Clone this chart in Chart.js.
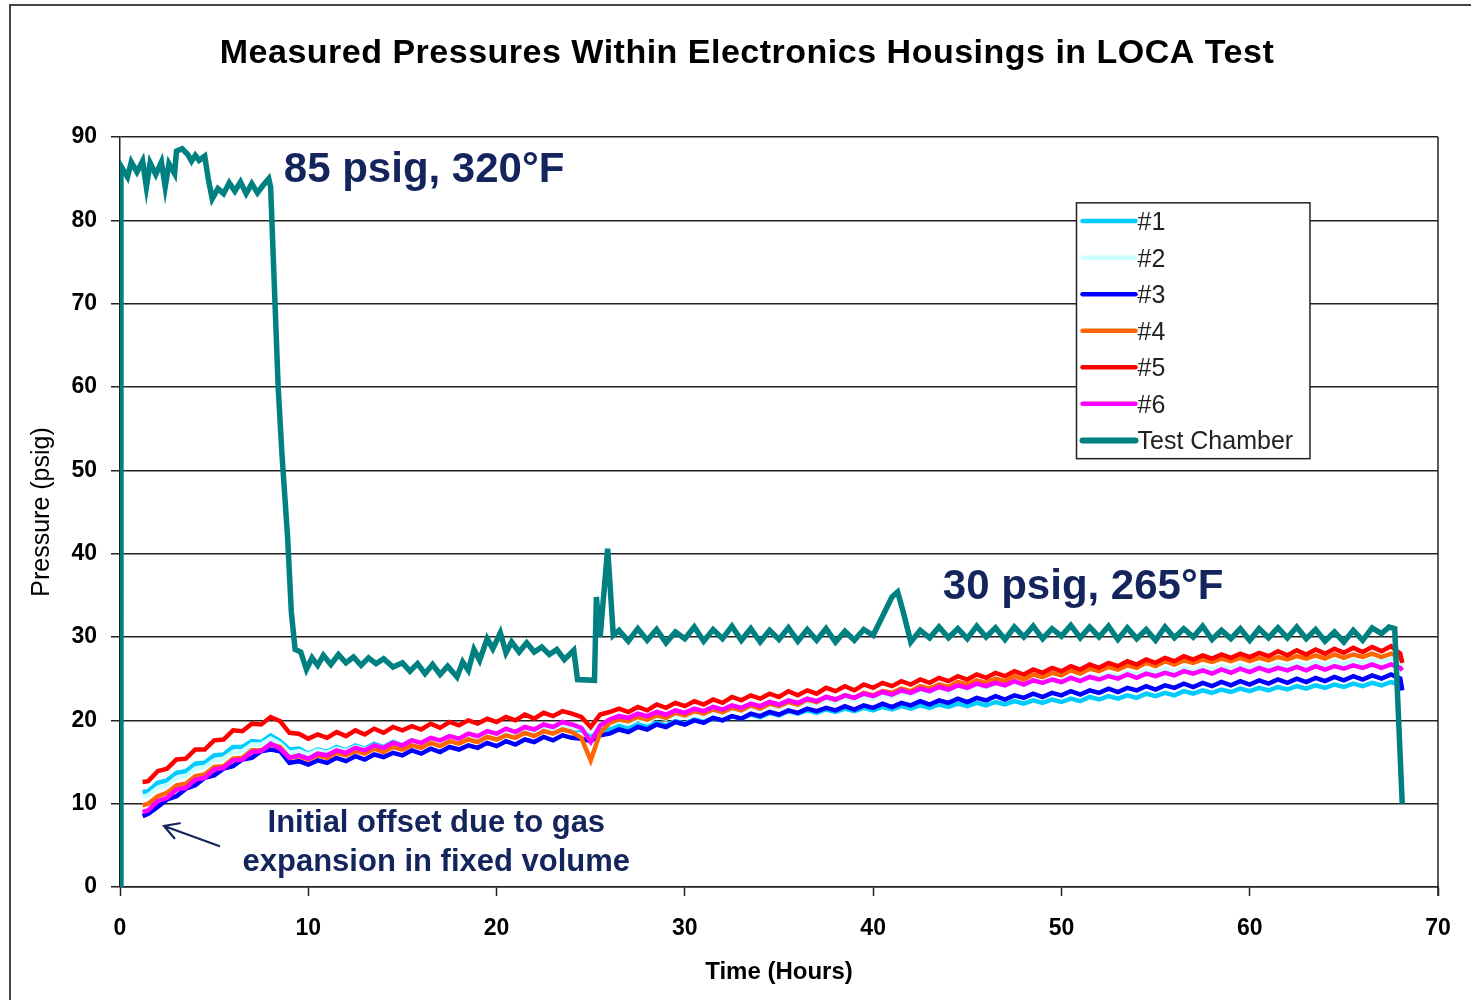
<!DOCTYPE html>
<html>
<head>
<meta charset="utf-8">
<script src="https://cdn.jsdelivr.net/npm/chart.js@4.4.1/dist/chart.umd.min.js"></script>
<style>
html, body { margin: 0; padding: 0; background: #fff; }
canvas { display: block; }
</style>
</head>
<body>
<canvas id="myChart" width="1471" height="1000"></canvas>
<script>
var ctx = document.getElementById('myChart');

// housing readings share one time base (hours)
var hours = [1.2, 1.5, 2, 2.5, 3, 3.5, 4, 4.5,
  5, 5.5, 6, 6.5, 7, 7.5, 8, 8.5, 9, 9.5,
  10, 10.5, 11, 11.5, 12, 12.5, 13, 13.5, 14, 14.5,
  15, 15.5, 16, 16.5, 17, 17.5, 18, 18.5, 19, 19.5,
  20, 20.5, 21, 21.5, 22, 22.5, 23, 23.5, 24, 24.5,
  25, 25.5, 26, 26.5, 27, 27.5, 28, 28.5, 29, 29.5,
  30, 30.5, 31, 31.5, 32, 32.5, 33, 33.5, 34, 34.5,
  35, 35.5, 36, 36.5, 37, 37.5, 38, 38.5, 39, 39.5,
  40, 40.5, 41, 41.5, 42, 42.5, 43, 43.5, 44, 44.5,
  45, 45.5, 46, 46.5, 47, 47.5, 48, 48.5, 49, 49.5,
  50, 50.5, 51, 51.5, 52, 52.5, 53, 53.5, 54, 54.5,
  55, 55.5, 56, 56.5, 57, 57.5, 58, 58.5, 59, 59.5,
  60, 60.5, 61, 61.5, 62, 62.5, 63, 63.5, 64, 64.5,
  65, 65.5, 66, 66.5, 67, 67.5, 68, 68.1];

var housing1 = [11.4, 11.5, 12.5, 12.8, 13.7, 13.9, 14.8, 14.9,
  15.8, 15.9, 16.8, 16.8, 17.5, 17.4, 18.2, 17.5, 16.5, 16.6,
  16.0, 16.5, 16.2, 16.8, 16.4, 17.0, 16.6, 17.2, 16.8, 17.4,
  17.0, 17.6, 17.2, 17.8, 17.4, 18.0, 17.6, 18.2, 17.8, 18.4,
  18.0, 18.6, 18.2, 18.8, 18.4, 19.0, 18.6, 19.2, 18.9, 18.8,
  18.3, 18.8, 18.9, 19.3, 19.0, 19.5, 19.2, 19.7, 19.4, 19.9,
  19.6, 20.1, 19.8, 20.3, 20.0, 20.5, 20.2, 20.7, 20.4, 20.9,
  20.6, 21.1, 20.8, 21.2, 20.9, 21.3, 21.0, 21.4, 21.1, 21.5,
  21.2, 21.6, 21.3, 21.7, 21.4, 21.8, 21.5, 21.9, 21.6, 22.0,
  21.7, 22.1, 21.8, 22.2, 21.9, 22.3, 22.0, 22.4, 22.1, 22.5,
  22.2, 22.6, 22.3, 22.8, 22.5, 22.9, 22.6, 23.0, 22.7, 23.2,
  22.9, 23.3, 23.0, 23.5, 23.2, 23.6, 23.3, 23.7, 23.4, 23.8,
  23.5, 23.9, 23.6, 24.0, 23.7, 24.1, 23.8, 24.2, 23.9, 24.3,
  24.0, 24.4, 24.1, 24.5, 24.2, 24.6, 24.3, 24.0];

var housing2 = [10.8, 11.0, 11.9, 12.2, 13.1, 13.3, 14.2, 14.4,
  15.2, 15.4, 16.2, 16.3, 17.1, 17.1, 17.8, 17.2, 16.1, 16.3,
  15.9, 16.4, 16.1, 16.6, 16.3, 16.8, 16.5, 17.0, 16.7, 17.2,
  17.0, 17.5, 17.2, 17.7, 17.4, 17.9, 17.6, 18.1, 17.8, 18.4,
  18.1, 18.6, 18.3, 18.9, 18.5, 19.1, 18.8, 19.3, 19.0, 19.1,
  18.6, 19.3, 19.5, 19.9, 19.7, 20.2, 19.9, 20.4, 20.2, 20.7,
  20.4, 20.9, 20.6, 21.1, 20.8, 21.3, 21.1, 21.6, 21.3, 21.8,
  21.5, 22.0, 21.7, 22.2, 21.9, 22.5, 22.2, 22.7, 22.4, 22.9,
  22.6, 23.2, 22.8, 23.4, 23.1, 23.6, 23.3, 23.9, 23.5, 24.1,
  23.7, 24.3, 23.9, 24.4, 24.1, 24.6, 24.3, 24.8, 24.5, 25.0,
  24.7, 25.2, 24.9, 25.4, 25.1, 25.6, 25.3, 25.8, 25.5, 26.0,
  25.7, 26.2, 25.8, 26.3, 26.0, 26.4, 26.1, 26.5, 26.2, 26.6,
  26.3, 26.7, 26.4, 26.8, 26.5, 26.9, 26.6, 27.0, 26.7, 27.1,
  26.8, 27.2, 26.9, 27.3, 27.0, 27.4, 27.0, 26.5];

var housing3 = [8.5, 8.8, 9.6, 10.5, 10.9, 11.8, 12.2, 13.1,
  13.4, 14.2, 14.5, 15.3, 15.5, 16.3, 16.5, 16.3, 14.9, 15.1,
  14.7, 15.2, 14.9, 15.5, 15.1, 15.7, 15.3, 15.9, 15.6, 16.1,
  15.8, 16.4, 16.0, 16.6, 16.2, 16.8, 16.5, 17.0, 16.7, 17.3,
  16.9, 17.5, 17.1, 17.7, 17.4, 18.0, 17.6, 18.2, 17.9, 17.8,
  17.5, 18.2, 18.4, 18.9, 18.6, 19.2, 18.9, 19.5, 19.2, 19.8,
  19.5, 20.0, 19.7, 20.3, 20.0, 20.5, 20.2, 20.8, 20.5, 21.0,
  20.7, 21.2, 20.9, 21.4, 21.1, 21.5, 21.2, 21.7, 21.3, 21.8,
  21.5, 22.0, 21.6, 22.1, 21.8, 22.3, 21.9, 22.4, 22.1, 22.6,
  22.2, 22.7, 22.4, 22.9, 22.5, 23.0, 22.7, 23.2, 22.8, 23.3,
  23.0, 23.5, 23.1, 23.6, 23.3, 23.8, 23.4, 23.9, 23.6, 24.1,
  23.7, 24.2, 23.9, 24.4, 24.0, 24.5, 24.1, 24.6, 24.2, 24.7,
  24.3, 24.8, 24.4, 24.9, 24.5, 25.0, 24.6, 25.1, 24.7, 25.2,
  24.8, 25.3, 24.9, 25.4, 25.0, 25.5, 25.0, 23.6];

var housing4 = [9.8, 10.0, 10.9, 11.3, 12.2, 12.4, 13.3, 13.5,
  14.4, 14.5, 15.4, 15.5, 16.4, 16.4, 17.1, 16.8, 15.5, 15.7,
  15.3, 15.8, 15.5, 16.1, 15.8, 16.3, 16.0, 16.6, 16.2, 16.8,
  16.5, 17.0, 16.7, 17.3, 16.9, 17.5, 17.2, 17.7, 17.4, 18.0,
  17.7, 18.2, 17.9, 18.5, 18.1, 18.7, 18.4, 18.9, 18.6, 17.9,
  15.2, 18.5, 19.7, 20.1, 19.9, 20.4, 20.1, 20.6, 20.3, 20.9,
  20.6, 21.1, 20.8, 21.3, 21.0, 21.5, 21.2, 21.8, 21.4, 22.0,
  21.7, 22.2, 21.9, 22.5, 22.2, 22.8, 22.5, 23.0, 22.7, 23.3,
  23.0, 23.5, 23.3, 23.8, 23.5, 24.1, 23.8, 24.3, 24.0, 24.6,
  24.3, 24.8, 24.5, 25.0, 24.7, 25.3, 24.9, 25.5, 25.2, 25.7,
  25.4, 26.0, 25.6, 26.2, 25.9, 26.4, 26.1, 26.6, 26.3, 26.9,
  26.5, 27.1, 26.7, 27.2, 26.9, 27.3, 27.0, 27.4, 27.1, 27.5,
  27.1, 27.5, 27.2, 27.6, 27.3, 27.7, 27.4, 27.8, 27.4, 27.9,
  27.5, 27.9, 27.6, 28.0, 27.6, 28.0, 27.6, 27.0];

var housing5 = [12.6, 12.7, 13.9, 14.2, 15.3, 15.4, 16.5, 16.5,
  17.6, 17.7, 18.8, 18.7, 19.6, 19.5, 20.4, 19.9, 18.5, 18.4,
  17.8, 18.3, 17.9, 18.6, 18.1, 18.8, 18.3, 19.0, 18.5, 19.2,
  18.8, 19.3, 18.9, 19.6, 19.1, 19.8, 19.4, 20.0, 19.6, 20.2,
  19.8, 20.4, 20.0, 20.7, 20.2, 20.9, 20.5, 21.1, 20.8, 20.4,
  19.2, 20.7, 21.0, 21.4, 21.0, 21.6, 21.2, 21.9, 21.5, 22.1,
  21.7, 22.3, 21.9, 22.5, 22.1, 22.8, 22.4, 23.0, 22.6, 23.2,
  22.8, 23.5, 23.0, 23.6, 23.2, 23.9, 23.5, 24.1, 23.6, 24.3,
  23.9, 24.5, 24.1, 24.7, 24.3, 24.9, 24.5, 25.1, 24.7, 25.3,
  24.9, 25.5, 25.1, 25.7, 25.3, 25.9, 25.5, 26.1, 25.7, 26.3,
  25.9, 26.5, 26.1, 26.7, 26.3, 26.9, 26.5, 27.1, 26.7, 27.3,
  26.9, 27.5, 27.1, 27.7, 27.3, 27.8, 27.4, 27.9, 27.5, 28.0,
  27.6, 28.1, 27.7, 28.3, 27.8, 28.4, 27.9, 28.5, 28.0, 28.6,
  28.1, 28.7, 28.2, 28.8, 28.3, 28.9, 28.0, 26.9];

var housing6 = [9.0, 9.2, 10.3, 10.7, 11.7, 11.9, 12.9, 13.1,
  14.1, 14.3, 15.2, 15.3, 16.2, 16.3, 17.2, 16.6, 15.5, 15.8,
  15.4, 16.0, 15.8, 16.4, 16.1, 16.7, 16.4, 17.0, 16.7, 17.3,
  17.0, 17.6, 17.3, 17.9, 17.6, 18.1, 17.8, 18.4, 18.1, 18.7,
  18.4, 19.0, 18.6, 19.2, 18.9, 19.5, 19.2, 19.8, 19.5, 19.1,
  17.4, 19.4, 20.1, 20.5, 20.3, 20.8, 20.5, 21.0, 20.7, 21.2,
  20.9, 21.4, 21.1, 21.6, 21.3, 21.8, 21.5, 22.0, 21.7, 22.2,
  21.9, 22.4, 22.1, 22.6, 22.3, 22.8, 22.5, 23.0, 22.7, 23.2,
  22.9, 23.4, 23.1, 23.6, 23.3, 23.8, 23.5, 24.0, 23.7, 24.2,
  23.9, 24.4, 24.1, 24.5, 24.2, 24.7, 24.3, 24.8, 24.5, 24.9,
  24.6, 25.1, 24.7, 25.2, 24.9, 25.3, 25.0, 25.5, 25.1, 25.6,
  25.3, 25.7, 25.4, 25.9, 25.6, 26.0, 25.6, 26.1, 25.7, 26.2,
  25.8, 26.3, 25.9, 26.3, 26.0, 26.4, 26.0, 26.5, 26.1, 26.5,
  26.2, 26.6, 26.3, 26.7, 26.3, 26.7, 26.3, 26.0];

// test chamber has its own time base
var chamberHours = [0, 0.05, 0.4, 0.6, 0.9, 1.2, 1.4, 1.6, 1.9, 2.2,
  2.4, 2.6, 2.9, 3.0, 3.3, 3.6, 3.8, 4.0, 4.2, 4.5,
  4.7, 4.9, 5.2, 5.5, 5.8, 6.1, 6.4, 6.7, 7.0, 7.3,
  7.6, 7.9, 8.0, 8.2, 8.4, 8.6, 8.9, 9.1, 9.3, 9.6,
  9.9, 10.2, 10.5, 10.8, 11.2, 11.6, 12.0, 12.4, 12.8, 13.2,
  13.6, 14.0, 14.5, 15.0, 15.4, 15.8, 16.2, 16.6, 17.0, 17.4,
  17.9, 18.2, 18.5, 18.8, 19.1, 19.5, 19.8, 20.2, 20.5, 20.8,
  21.2, 21.6, 22.0, 22.4, 22.8, 23.2, 23.6, 24.1, 24.3, 25.2,
  25.3, 25.5, 25.9, 26.2, 26.5, 27.0, 27.5, 28.0, 28.5, 29.0,
  29.5, 30.0, 30.5, 31.0, 31.5, 32.0, 32.5, 33.0, 33.5, 34.0,
  34.5, 35.0, 35.5, 36.0, 36.5, 37.0, 37.5, 38.0, 38.5, 39.0,
  39.5, 40.0, 40.5, 41.0, 41.3, 41.6, 42.0, 42.5, 43.0, 43.5,
  44.0, 44.5, 45.0, 45.5, 46.0, 46.5, 47.0, 47.5, 48.0, 48.5,
  49.0, 49.5, 50.0, 50.5, 51.0, 51.5, 52.0, 52.5, 53.0, 53.5,
  54.0, 54.5, 55.0, 55.5, 56.0, 56.5, 57.0, 57.5, 58.0, 58.5,
  59.0, 59.5, 60.0, 60.5, 61.0, 61.5, 62.0, 62.5, 63.0, 63.5,
  64.0, 64.5, 65.0, 65.5, 66.0, 66.5, 67.0, 67.4, 67.7, 68.1];

var chamberPsig = [0, 86.5, 85.2, 87.0, 85.8, 87.1, 84.0, 86.9, 85.5, 87.0,
  84.0, 86.8, 85.6, 88.3, 88.6, 87.9, 87.1, 87.8, 87.2, 87.7,
  84.8, 82.6, 83.8, 83.2, 84.5, 83.5, 84.6, 83.2, 84.4, 83.3,
  84.2, 85.0, 84.0, 72, 60, 52, 42, 33, 28.5, 28.2,
  26.1, 27.5, 26.6, 27.8, 26.7, 27.9, 26.9, 27.6, 26.6, 27.5,
  26.8, 27.4, 26.4, 26.9, 25.9, 26.8, 25.6, 26.7, 25.5, 26.5,
  25.2, 27.0, 26.0, 28.5, 27.2, 29.8, 28.6, 30.5, 28.1, 29.4,
  28.2, 29.3, 28.2, 28.8, 27.9, 28.5, 27.3, 28.4, 24.9, 24.8,
  34.8, 30.0, 40.6, 30.2, 30.8, 29.5, 31.0, 29.6, 30.9, 29.3,
  30.6, 29.8, 31.2, 29.5, 30.9, 29.8, 31.3, 29.6, 31.0, 29.4,
  30.8, 29.7, 31.1, 29.5, 30.9, 29.6, 31.0, 29.4, 30.7, 29.6,
  30.9, 30.2, 32.5, 34.8, 35.4, 33.0, 29.4, 30.8, 29.9, 31.2,
  29.9, 31.0, 29.8, 31.3, 30.0, 31.1, 29.7, 31.2, 30.0, 31.3,
  29.8, 31.0, 30.1, 31.4, 29.9, 31.2, 30.0, 31.3, 29.7, 31.1,
  29.8, 30.9, 29.6, 31.2, 29.9, 31.0, 30.0, 31.3, 29.7, 30.8,
  29.8, 31.0, 29.6, 31.0, 29.9, 31.1, 29.9, 31.2, 29.8, 30.9,
  29.5, 30.6, 29.4, 30.8, 29.6, 31.1, 30.4, 31.2, 31.0, 10.0];

var seriesNames = ['#1', '#2', '#3', '#4', '#5', '#6', 'Test Chamber'];
var seriesColors = ['#00ccff', '#ccffff', '#0000ff', '#ff6600', '#ff0000', '#ff00ff', '#008080'];

var navy = '#14245c';
var notes = [
  { text: '85 psig, 320\u00B0F', x: 8.7, y: 86.0, size: 42, align: 'left' },
  { text: '30 psig, 265\u00B0F', x: 43.7, y: 35.9, size: 42, align: 'left' },
  { text: 'Initial offset due to gas', x: 16.8, y: 7.6, size: 31, align: 'center' },
  { text: 'expansion in fixed volume', x: 16.8, y: 3.0, size: 31, align: 'center' }
];

Chart.defaults.font.family = '"Liberation Sans", Arial, sans-serif';

function pts(xs, ys) {
  return xs.map(function (x, i) { return { x: x, y: ys[i] }; });
}

var housings = [housing1, housing2, housing3, housing4, housing5, housing6];
var datasets = housings.map(function (s, i) {
  return {
    label: seriesNames[i],
    data: pts(hours, s),
    borderColor: seriesColors[i],
    borderWidth: 4.5,
    pointRadius: 0,
    order: 7 - i
  };
});
datasets.push({
  label: seriesNames[6],
  data: pts(chamberHours, chamberPsig),
  borderColor: seriesColors[6],
  borderWidth: 5.5,
  pointRadius: 0,
  order: 0
});

var extras = {
  id: 'extras',
  beforeDraw: function (chart) {
    var c = chart.ctx;
    c.save();
    c.fillStyle = '#fff';
    c.fillRect(0, 0, chart.width, chart.height);
    c.strokeStyle = '#444';
    c.lineWidth = 2;
    c.beginPath();
    c.moveTo(10, chart.height);
    c.lineTo(10, 5);
    c.lineTo(chart.width, 5);
    c.stroke();
    c.fillStyle = '#000';
    c.font = 'bold 34px "Liberation Sans", Arial, sans-serif';
    c.letterSpacing = '0.5px';
    c.textAlign = 'center';
    c.textBaseline = 'middle';
    c.fillText('Measured Pressures Within Electronics Housings in LOCA Test', 747, 54);
    c.restore();
  },
  beforeDatasetsDraw: function (chart) {
    var a = chart.chartArea, c = chart.ctx;
    c.save();
    c.strokeStyle = '#222';
    c.lineWidth = 1.5;
    c.beginPath();
    c.moveTo(a.right, a.top);
    c.lineTo(a.right, a.bottom + 9);
    c.stroke();
    c.restore();
  },
  afterDatasetsDraw: function (chart) {
    var xs = chart.scales.x, ys = chart.scales.y, c = chart.ctx;
    c.save();
    // legend box
    var l = xs.getPixelForValue(50.8), r = xs.getPixelForValue(63.2);
    var t = ys.getPixelForValue(82.1), b = ys.getPixelForValue(51.4);
    c.fillStyle = '#fff';
    c.fillRect(l, t, r - l, b - t);
    c.strokeStyle = '#222';
    c.lineWidth = 1.5;
    c.strokeRect(l, t, r - l, b - t);
    var rowH = (b - t) / 7;
    c.font = '25px "Liberation Sans", Arial, sans-serif';
    c.textAlign = 'left';
    c.textBaseline = 'middle';
    chart.data.datasets.forEach(function (ds, i) {
      var yy = t + rowH * (i + 0.5);
      c.strokeStyle = ds.borderColor;
      c.lineWidth = i === 6 ? 6 : 4.5;
      c.lineCap = 'round';
      c.beginPath();
      c.moveTo(l + 6, yy);
      c.lineTo(l + 59, yy);
      c.stroke();
      c.fillStyle = '#222';
      c.fillText(ds.label, l + 61, yy + 2);
    });
    // annotations
    c.fillStyle = navy;
    notes.forEach(function (n) {
      c.font = 'bold ' + n.size + 'px "Liberation Sans", Arial, sans-serif';
      c.textAlign = n.align;
      c.fillText(n.text, xs.getPixelForValue(n.x), ys.getPixelForValue(n.y));
    });
    // arrow
    var x0 = xs.getPixelForValue(5.26), y0 = ys.getPixelForValue(4.92);
    var x1 = xs.getPixelForValue(2.34), y1 = ys.getPixelForValue(7.32);
    var ang = Math.atan2(y0 - y1, x0 - x1);
    c.strokeStyle = navy;
    c.lineWidth = 2.2;
    c.lineCap = 'round';
    c.beginPath();
    c.moveTo(x0, y0);
    c.lineTo(x1, y1);
    c.moveTo(x1 + 16 * Math.cos(ang - 0.52), y1 + 16 * Math.sin(ang - 0.52));
    c.lineTo(x1, y1);
    c.lineTo(x1 + 16 * Math.cos(ang + 0.52), y1 + 16 * Math.sin(ang + 0.52));
    c.stroke();
    c.restore();
  }
};

var myChart = new Chart(ctx, {
  type: 'line',
  data: { datasets: datasets },
  options: {
    responsive: false,
    animation: false,
    layout: { padding: { top: 137, right: 33, bottom: 0, left: 0 } },
    plugins: {
      legend: { display: false },
      tooltip: { enabled: false },
      title: { display: false }
    },
    elements: { line: { tension: 0 } },
    scales: {
      x: {
        type: 'linear',
        min: 0,
        max: 70,
        ticks: { stepSize: 10, color: '#000', padding: 19, maxRotation: 0,
          font: { size: 23, weight: 'bold' } },
        grid: { drawOnChartArea: false, drawTicks: true, tickLength: 9,
          tickColor: '#222', tickWidth: 1.5 },
        border: { color: '#222', width: 1.5 },
        title: { display: true, text: 'Time (Hours)', color: '#000',
          font: { size: 24, weight: 'bold' }, padding: { top: 0, bottom: 13 } },
        afterFit: function (s) { s.height = 113; }
      },
      y: {
        min: 0,
        max: 90,
        ticks: { stepSize: 10, color: '#000', padding: 14,
          font: { size: 23, weight: 'bold' } },
        grid: { color: '#222', lineWidth: 1.5, tickLength: 9, tickColor: '#222' },
        border: { color: '#222', width: 1.5 },
        title: { display: true, text: 'Pressure (psig)', color: '#000',
          font: { size: 25 }, padding: { top: 27, bottom: 0 } },
        afterFit: function (s) { s.width = 120; }
      }
    }
  },
  plugins: [extras]
});
</script>
</body>
</html>
